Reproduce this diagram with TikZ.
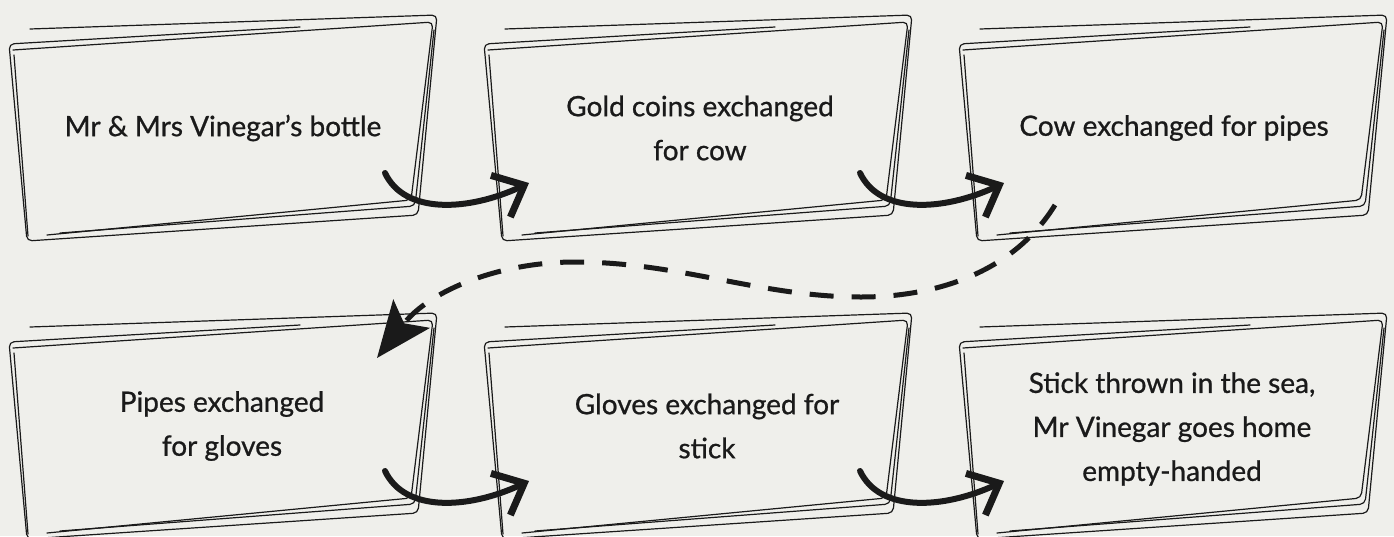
\documentclass[tikz,border=0pt]{standalone}
\usepackage{fontspec}
\setmainfont{Lato}[FakeBold=0.8]
\usetikzlibrary{arrows.meta}
\definecolor{bg}{HTML}{EFEFEB}
\definecolor{ink}{HTML}{1A1A1A}
\tikzset{
  sk/.style={draw=ink, line width=1.2pt, rounded corners=5pt, line cap=round, line join=round},
  boxtext/.style={align=center, font=\fontsize{28}{44}\selectfont, text=ink, inner sep=0pt},
  flow/.style={draw=ink, line width=6pt, line cap=round, -{Straight Barb[length=26pt 0,width=46pt 0,line width=7pt]}},
  jump/.style={draw=ink, line width=5pt, dash pattern=on 24pt off 18pt, -{Stealth[length=56pt 0,width=46pt 0,inset=12pt 0]}},
  pics/sketchbox/.style={code={
    \draw[sk] (30,29) -- (437,15) -- (418,215) -- (27,241) -- (9,44) -- (300,27);
    \draw[sk] (13,50) -- (433,22) -- (411,200) -- (47,235);
    \draw[sk] (28,236) -- (14,55);
    \draw[sk] (60,233) -- (415,206) -- (434,30);
  }}
}
\begin{document}
\begin{tikzpicture}[x=1pt,y=-1pt]
\useasboundingbox (0,0) rectangle (1394,536);
\fill[bg] (0,0) rectangle (1394,536);
\clip (0,0) rectangle (1394,536);
% boxes
\pic at (0,0) {sketchbox};
\pic at (475,0) {sketchbox};
\pic at (950,0) {sketchbox};
\pic at (0,298) {sketchbox};
\pic at (475,298) {sketchbox};
\pic at (950,298) {sketchbox};
% texts
\node[boxtext] (b1) at (223,128) {Mr \& Mrs Vinegar’s bottle};
\node[boxtext] (b2) at (700,128) {Gold coins exchanged\\for cow};
\node[boxtext] (b3) at (1174,128) {Cow exchanged for pipes};
\node[boxtext] (b4) at (222,426) {Pipes exchanged\\for gloves};
\node[boxtext] (b5) at (707,426) {Gloves exchanged for\\stick};
\node[boxtext] (b6) at (1172,429) {Stick thrown in the sea,\\Mr Vinegar goes home\\empty-handed};
% connectors
\draw[flow] ([shift={(162,45)}]b1.center) .. controls +(20,42) and +(-60,28) .. ([shift={(-171,55)}]b2.center);
\draw[flow] ([shift={(160,45)}]b2.center) .. controls +(20,42) and +(-60,28) .. ([shift={(-170,55)}]b3.center);
\draw[flow] ([shift={(163,45)}]b4.center) .. controls +(20,42) and +(-60,28) .. ([shift={(-178,55)}]b5.center);
\draw[flow] ([shift={(153,45)}]b5.center) .. controls +(20,42) and +(-60,28) .. ([shift={(-168,52)}]b6.center);
\draw[jump] ([shift={(-119,77)}]b3.center) .. controls (1015,270) and (940,297) .. (861,297)
  .. controls (760,297) and (680,262) .. (575,262)
  .. controls (500,262) and (430,290) .. ([shift={(155,-68)}]b4.center);
\end{tikzpicture}
\end{document}
